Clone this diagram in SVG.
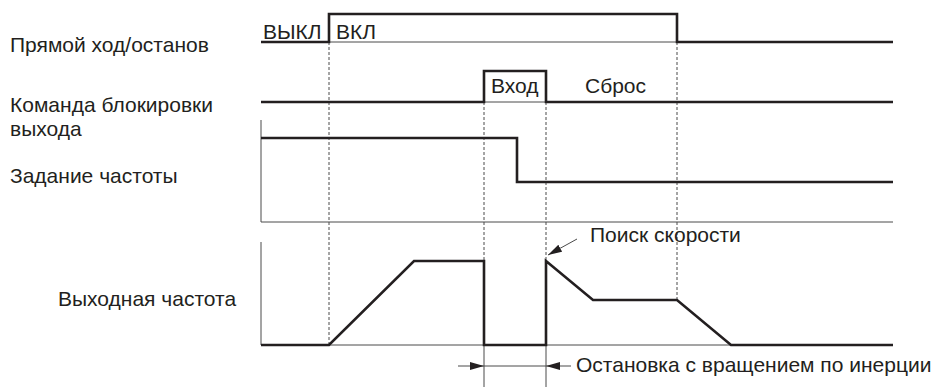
<svg xmlns="http://www.w3.org/2000/svg" width="937" height="387" viewBox="0 0 937 387">
<style>
text{font-family:"Liberation Sans",Arial,sans-serif;font-size:21px;fill:#231f20}
.thick{fill:none;stroke:#231f20;stroke-width:2.6;stroke-linejoin:miter}
.thin{fill:none;stroke:#4a4a4a;stroke-width:1}
.dash{fill:none;stroke:#4a4a4a;stroke-width:1;stroke-dasharray:3 2}
</style>
<defs>
<marker id="ah" viewBox="0 0 14 8" refX="14" refY="4" markerWidth="14" markerHeight="8" markerUnits="userSpaceOnUse" orient="auto">
<path d="M0,0 L14,4 L0,8 Z" fill="#231f20"/>
</marker>
</defs>
<rect width="937" height="387" fill="#fff"/>
<g id="labels">
<text x="10" y="52">Прямой ход/останов</text>
<text x="10" y="112">Команда блокировки</text>
<text x="10" y="136">выхода</text>
<text x="10" y="183">Задание частоты</text>
<text x="58" y="306">Выходная частота</text>
</g>
<g id="guides">
<path class="dash" d="M329,42 V345 M484,102 V261 M546,102 V261 M677,42 V300"/>
<path class="thin" d="M484,345 V387 M546,345 V387"/>
</g>
<g id="run-stop">
<path class="thin" d="M329,42 H677"/>
<path class="thick" d="M261,42 H329 V14 H677 V42 H893"/>
<text x="263" y="39">ВЫКЛ</text>
<text x="336" y="39">ВКЛ</text>
</g>
<g id="baseblock">
<path class="thin" d="M484,102 H546"/>
<path class="thick" d="M261,102 H484 V71 H546 V102 H893"/>
<text x="491" y="93">Вход</text>
<text x="585" y="93">Сброс</text>
</g>
<g id="freq-ref">
<path class="thin" d="M261,120 V222 H893"/>
<path class="thick" d="M261,138 H517 V182 H893"/>
</g>
<g id="output-freq">
<path class="thin" d="M261,242 V345 H893"/>
<path class="thick" d="M261,345 H329 L414,261 H484 V345 H546 V261 L593,300 H677 L731,345 H893"/>
</g>
<g id="connectors">
<path class="thin" d="M577,239 L548,255" stroke="#231f20" marker-end="url(#ah)"/>
<path class="thin" d="M458,366 L484,366" marker-end="url(#ah)"/>
<path class="thin" d="M484,366 H546"/>
<path class="thin" d="M571,366 L546,366" marker-end="url(#ah)"/>
<text x="590" y="242">Поиск скорости</text>
<text x="576" y="372">Остановка с вращением по инерции</text>
</g>
</svg>
